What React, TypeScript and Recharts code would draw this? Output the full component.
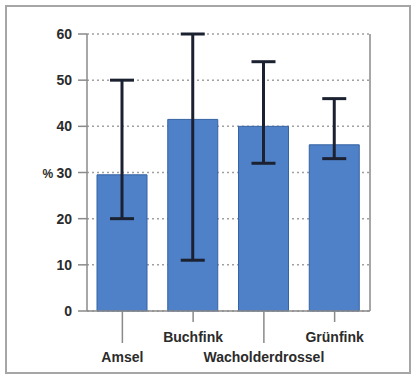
import React from 'react'
import { BarChart, Bar, XAxis, YAxis, CartesianGrid, ErrorBar } from 'recharts'

const birds = ['Amsel', 'Buchfink', 'Wacholderdrossel', 'Grünfink']
const means = [29.5, 41.5, 40, 36]
const lows = [20, 11, 32, 33]
const highs = [50, 60, 54, 46]
const yTicks = [0, 10, 20, 30, 40, 50, 60]

const data = birds.map((name, i) => ({
    name,
    value: means[i],
    err: [means[i] - lows[i], highs[i] - means[i]],
}))

const FONT = '"Liberation Sans", Arial, sans-serif'
const TEXT = '#2b2b2b'
const AXIS = '#8a8a8a'

const YTick = ({ x, y, payload }: any) => (
    <text x={x} y={y} dy={5} textAnchor="end" fontFamily={FONT} fontWeight="bold" fontSize={14} fill={TEXT}>
        {payload.value === 30 && <tspan fontSize={12}>% </tspan>}
        {payload.value}
    </text>
)

const XTick = ({ x, y, payload, index }: any) => {
    const low = index % 2 === 0
    return (
        <g>
            <line x1={x} y1={y} x2={x} y2={y + (low ? 32 : 11)} stroke={AXIS} strokeWidth={1.5} />
            <text x={x} y={y + (low ? 51 : 31)} textAnchor="middle" fontFamily={FONT} fontWeight="bold" fontSize={14} fill={TEXT}>
                {payload.value}
            </text>
        </g>
    )
}

const App = () => {
    return (
        <div style={{ position: 'absolute', left: 0, top: 0, width: 415, height: 382, background: '#fff' }}>
            <div style={{ position: 'absolute', left: 5, top: 5, width: 402, height: 365, border: '2px solid #a6a6a6' }} />
            <div style={{ position: 'absolute', left: 0, top: 0 }}>
                <BarChart width={415} height={382} data={data} margin={{ top: 34, right: 40, bottom: 11, left: 47 }} barSize={50}>
                    <CartesianGrid yAxisId="left" vertical={false} stroke="#a0a0a0" strokeDasharray="2 3" strokeWidth={1.5} />
                    <XAxis dataKey="name" height={60} tickSize={0} tickMargin={0} tick={<XTick />} stroke={AXIS} strokeWidth={1.5} interval={0} />
                    <YAxis yAxisId="left" width={40} domain={[0, 60]} ticks={yTicks} tickSize={9} tickMargin={6} tick={<YTick />} stroke={AXIS} strokeWidth={1.5} />
                    <YAxis yAxisId="right" orientation="right" width={5} domain={[0, 60]} tick={false} tickLine={false} stroke={AXIS} strokeWidth={1.5} />
                    <Bar yAxisId="left" dataKey="value" fill="#4f81c8" stroke="#3563a3" strokeWidth={1} isAnimationActive={false}>
                        <ErrorBar dataKey="err" width={12} stroke="#1b2130" strokeWidth={3} isAnimationActive={false} />
                    </Bar>
                </BarChart>
            </div>
        </div>
    )
}

export default App
